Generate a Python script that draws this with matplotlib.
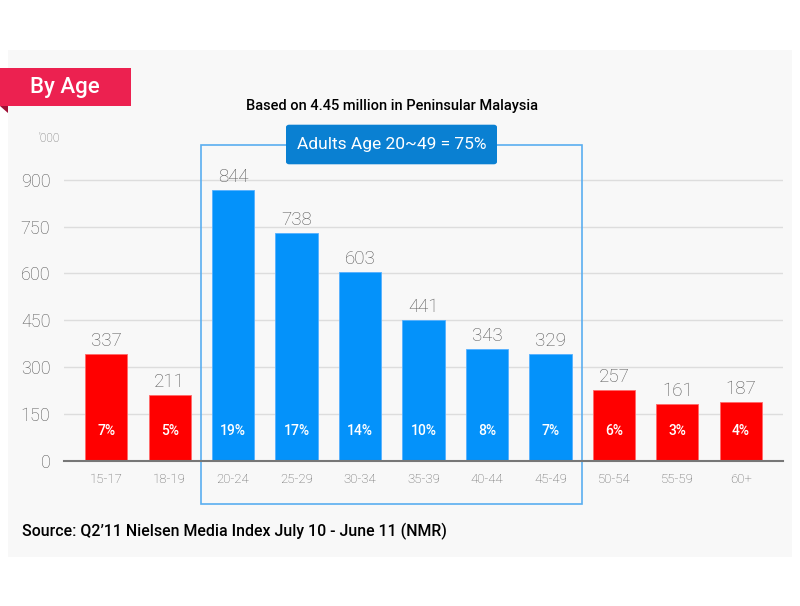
import matplotlib
matplotlib.use("Agg")
import matplotlib.pyplot as plt
from matplotlib.patches import Rectangle, Polygon, FancyBboxPatch

# ---- data ----
categories = ["15-17", "18-19", "20-24", "25-29", "30-34", "35-39",
              "40-44", "45-49", "50-54", "55-59", "60+"]
count_labels = [337, 211, 844, 738, 603, 441, 343, 329, 257, 161, 187]
bar_heights = [341, 210, 868, 730, 604, 450, 358, 341, 225, 180, 188]
pct_labels = ["7%", "5%", "19%", "17%", "14%", "10%", "8%", "7%", "6%", "3%", "4%"]
is_adult = [False, False, True, True, True, True, True, True, False, False, False]
yticks = [0, 150, 300, 450, 600, 750, 900]

W, H = 800, 606
FONT = "Roboto"
RED = "#ff0000"
BLUE = "#0492fa"

def fx(x):
    return x / W

def fy(y):
    return 1 - y / H

fig = plt.figure(figsize=(8, 6.06), dpi=100)
fig.patch.set_facecolor("white")

# background panel
fig.add_artist(Rectangle((fx(8), fy(556.5)), fx(792) - fx(8), fy(50) - fy(556.5),
                         transform=fig.transFigure, facecolor="#f8f8f8",
                         edgecolor="none", zorder=0))

ax_left, ax_right = 64.3, 782.7
ax_bottom_px = 460.5
ytop = 1000
px_per_unit = 0.3118
ax_h_px = ytop * px_per_unit
ax = fig.add_axes([fx(ax_left), fy(ax_bottom_px), (ax_right - ax_left) / W, ax_h_px / H])
ax.set_facecolor("none")

x = list(range(len(categories)))
colors = [BLUE if a else RED for a in is_adult]
ax.bar(x, bar_heights, width=0.665, color=colors, zorder=3,
       edgecolor=["#55b0ff" if a else "#ff6a6a" for a in is_adult], linewidth=0.6)

for xi, h, c, p in zip(x, bar_heights, count_labels, pct_labels):
    ax.text(xi, h + 13, str(c), ha="center", va="bottom", fontsize=13.5,
            color="#555555", family=FONT, fontweight="light", zorder=4)
    ax.text(xi, 95, p, ha="center", va="center", fontsize=10, color="white",
            family=FONT, fontweight="medium", zorder=4)

ax.set_xlim(-0.66, 10.66)
ax.set_ylim(0, ytop)
ax.set_yticks(yticks)
ax.set_yticklabels([str(v) for v in yticks], family=FONT, fontweight="light",
                   fontsize=13, color="#555555")
ax.set_xticks(x)
ax.set_xticklabels(categories, family=FONT, fontweight="light", fontsize=9.5,
                   color="#606060")
ax.tick_params(axis="y", length=0, pad=10)
ax.tick_params(axis="x", length=0, pad=9)
ax.grid(axis="y", color="#dddddd", linewidth=1, zorder=1)
ax.set_axisbelow(True)
for s in ["top", "right", "left"]:
    ax.spines[s].set_visible(False)
ax.spines["bottom"].set_color("#777777")
ax.spines["bottom"].set_linewidth(1.5)
ax.spines["bottom"].set_zorder(5)

# adult range rectangle
y_low = -(504 - ax_bottom_px) / px_per_unit
y_high = (ax_bottom_px - 144.7) / px_per_unit
ax.add_patch(Rectangle((1.5, y_low), 6.0, y_high - y_low, fill=False,
                       edgecolor="#5aaef0", linewidth=1.2, clip_on=False, zorder=2))

# label box
fig.add_artist(FancyBboxPatch((fx(286), fy(164.3)), fx(497) - fx(286), fy(124.7) - fy(164.3),
                              boxstyle="round,pad=0,rounding_size=0.004",
                              transform=fig.transFigure, facecolor="#0a80d2",
                              edgecolor="none", zorder=6))
fig.text(fx(391.5), fy(144.5), "Adults Age 20~49 = 75%", ha="center", va="center",
         fontsize=12.5, color="white", family=FONT, zorder=7)

# ribbon
fig.add_artist(Polygon([(fx(0), fy(106)), (fx(8), fy(106)), (fx(8), fy(113))],
                       closed=True, transform=fig.transFigure, facecolor="#9e0f35",
                       edgecolor="none", zorder=5))
fig.add_artist(Rectangle((fx(0), fy(106)), fx(131), fy(68.3) - fy(106),
                         transform=fig.transFigure, facecolor="#ec2150",
                         edgecolor="none", zorder=6))
fig.text(fx(65), fy(87.5), "By Age", ha="center", va="center", fontsize=16,
         color="white", family=FONT, fontweight="medium", zorder=7)

# titles / notes
fig.text(fx(392.5), fy(106), "Based on 4.45 million in Peninsular Malaysia",
         ha="center", va="center", fontsize=10.5, color="black", family=FONT,
         fontweight="medium")
fig.text(fx(60), fy(138), "'000", ha="right", va="center", fontsize=8.5,
         color="#666666", family=FONT, fontweight="light")
fig.text(fx(22), fy(531.5), "Source: Q2\u201911 Nielsen Media Index July 10 - June 11 (NMR)",
         ha="left", va="center", fontsize=11.4, color="black", family=FONT,
         fontweight="medium")

fig.savefig("out.png", dpi=100, facecolor=fig.get_facecolor())
